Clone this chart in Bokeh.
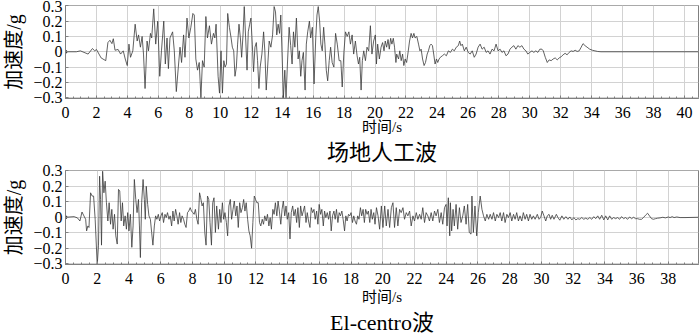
from bokeh.plotting import figure
from bokeh.layouts import column
from bokeh.models import (FixedTicker, CustomJSTickFormatter, Range1d, Title)
from bokeh.embed import file_html
from bokeh.resources import INLINE

# ---------------- data ----------------
title_top = "场地人工波"
title_bottom = "El-centro波"
x_label = "时间/s"
y_label = "加速度/g"

x_ticks_top = [0, 2, 4, 6, 8, 10, 12, 14, 16, 18, 20, 22, 24, 26, 28, 30, 32, 34, 36, 38, 40]
x_ticks_bottom = [0, 2, 4, 6, 8, 10, 12, 14, 16, 18, 20, 22, 24, 26, 28, 30, 32, 34, 36, 38]
y_ticks = [-0.3, -0.2, -0.1, 0, 0.1, 0.2, 0.3]

t_top = [0.0, 0.7, 0.96, 1.46, 1.74, 1.89, 2.0, 2.3, 2.6, 2.74, 2.87, 3.0, 3.09, 3.2, 3.4, 3.56,
         3.73, 3.86, 3.99, 4.1, 4.2, 4.35, 4.5, 4.63, 4.72, 4.84, 4.95, 5.04, 5.14, 5.27, 5.36,
         5.49, 5.57, 5.7, 5.83, 5.96, 6.09, 6.2, 6.35, 6.45, 6.56, 6.65, 6.75, 6.92, 7.03, 7.16,
         7.29, 7.4, 7.5, 7.63, 7.72, 7.85, 7.97, 8.1, 8.23, 8.32, 8.42, 8.53, 8.64, 8.75, 8.85,
         8.96, 9.07, 9.17, 9.3, 9.43, 9.56, 9.65, 9.73, 9.86, 9.95, 10.05, 10.14, 10.23, 10.31,
         10.4, 10.48, 10.59, 10.7, 10.78, 10.87, 10.95, 11.04, 11.12, 11.21, 11.3, 11.38, 11.47,
         11.55, 11.64, 11.73, 11.81, 11.9, 11.98, 12.07, 12.15, 12.24, 12.33, 12.41, 12.5, 12.58,
         12.69, 12.8, 12.88, 12.97, 13.06, 13.16, 13.27, 13.38, 13.48, 13.57, 13.65, 13.74, 13.83,
         13.91, 14.02, 14.08, 14.17, 14.25, 14.34, 14.45, 14.55, 14.64, 14.73, 14.82, 14.92,
         15.03, 15.11, 15.2, 15.28, 15.37, 15.48, 15.56, 15.65, 15.76, 15.84, 15.95, 16.06,
         16.17, 16.25, 16.33, 16.42, 16.5, 16.59, 16.68, 16.76, 16.85, 16.94, 17.04, 17.13,
         17.23, 17.34, 17.45, 17.56, 17.68, 17.79, 17.88, 17.98, 18.09, 18.2, 18.31, 18.41,
         18.52, 18.62, 18.73, 18.84, 18.93, 19.01, 19.1, 19.18, 19.27, 19.38, 19.48, 19.59,
         19.7, 19.8, 19.91, 20.02, 20.09, 20.17, 20.28, 20.39, 20.49, 20.58, 20.66, 20.75,
         20.84, 20.92, 21.01, 21.09, 21.18, 21.26, 21.35, 21.4, 21.52, 21.6, 21.69, 21.78,
         21.86, 21.95, 22.04, 22.12, 22.23, 22.33, 22.42, 22.51, 22.59, 22.7, 22.81, 22.9,
         22.98, 23.07, 23.17, 23.26, 23.37, 23.45, 23.54, 23.62, 23.71, 23.79, 23.88, 23.97,
         24.05, 24.14, 24.22, 24.35, 24.48, 24.61, 24.74, 24.87, 25.0, 25.12, 25.25, 25.38,
         25.47, 25.55, 25.64, 25.77, 25.89, 26.02, 26.15, 26.28, 26.41, 26.53, 26.66, 26.79,
         26.92, 27.05, 27.18, 27.3, 27.43, 27.56, 27.69, 27.82, 27.95, 28.08, 28.2, 28.33,
         28.46, 28.59, 28.72, 28.84, 28.97, 29.1, 29.23, 29.36, 29.49, 29.62, 29.75, 29.87,
         30.0, 30.14, 30.26, 30.39, 30.52, 30.65, 30.78, 30.87, 31.0, 31.13, 31.25, 31.38,
         31.51, 31.64, 31.77, 31.9, 32.03, 32.15, 32.28, 32.41, 32.54, 32.67, 32.8, 32.93,
         33.06, 33.19, 33.32, 33.44, 33.57, 33.7, 33.87, 34.04, 34.21, 34.38, 34.6, 40.9]
a_top = [0, 0, 0.006, -0.015, 0.021, 0.006, 0.015, -0.04, -0.058, 0.06, 0.075, 0.053, 0.085, 0.01,
         0.015, -0.015, 0.006, -0.047, -0.09, 0.05, -0.036, 0.006, 0.18, 0.07, 0.11, 0.03, 0.1,
         -0.015, -0.24, 0.07, 0.006, 0.12, 0.09, 0.28, 0.05, 0.2, -0.16, 0.006, 0.2, -0.08, 0.09,
         -0.11, 0.09, 0.13, 0.006, -0.26, -0.1, 0.03, -0.07, 0.11, -0.036, 0.22, 0.09, 0.16, 0.25,
         0.24, -0.047, -0.12, -0.07, -0.3, -0.058, -0.1, 0.23, 0.09, 0.17, 0.05, 0.12, 0.09, 0.18,
         -0.16, -0.27, 0.006, -0.27, -0.058, -0.1, -0.08, 0.25, 0.16, 0.09, 0.03, 0.006, -0.16,
         -0.1, 0.05, 0.18, 0.09, -0.036, 0.11, 0.295, 0.09, -0.12, 0.13, 0.18, 0.22, 0.05, -0.13,
         0.03, 0.06, -0.058, -0.24, -0.1, -0.015, 0.13, 0.006, -0.25, -0.1, 0.07, 0.03, 0.11,
         0.295, 0.26, 0.11, 0.18, 0.12, 0.24, -0.1, -0.3, -0.12, -0.3, -0.08, 0.16, 0.04, -0.08,
         0.13, 0.03, 0.22, -0.047, 0.006, -0.16, -0.058, -0.004, -0.25, 0.05, 0.13, 0.2, 0.09,
         0.16, -0.21, 0.09, 0.24, 0.295, 0.2, 0.05, 0.006, 0.16, 0.05, -0.12, -0.19, -0.058, 0.03,
         -0.07, -0.1, 0.12, 0.05, -0.058, -0.058, -0.23, -0.015, 0.13, 0.1, 0.13, 0.05, 0.11,
         -0.015, 0.07, -0.026, -0.08, -0.036, -0.25, -0.058, 0.006, -0.058, 0.03, 0.006, 0.17,
         -0.015, 0.07, 0.11, -0.08, 0.05, -0.047, 0.03, 0.06, 0.006, 0.07, 0.03, 0.08, 0.017,
         0.088, 0.05, 0.088, 0.03, -0.07, -0.015, -0.047, 0.006, -0.058, -0.015, -0.09, -0.047,
         -0.07, -0.015, 0.07, 0.12, 0.09, 0.12, 0.09, 0.1, 0.05, 0.006, 0.017, -0.047, -0.09,
         -0.07, -0.015, 0.006, 0.04, 0.05, 0.04, -0.015, -0.08, -0.047, -0.07, -0.047, -0.036,
         -0.026, -0.015, -0.026, 0.006, -0.004, 0.017, 0.006, 0.03, 0.04, 0.07, 0.04, 0.05,
         0.006, 0.03, -0.004, -0.015, 0.006, -0.036, -0.015, 0.03, 0.05, 0.017, 0.03, -0.004,
         0.006, -0.015, 0.017, 0.006, 0.05, 0.006, 0.017, -0.004, 0.006, -0.026, -0.015, 0.017,
         0.03, 0.04, 0.017, 0.04, 0.03, 0.04, 0.017, 0.006, -0.015, -0.004, 0.006, -0.004, 0.006,
         -0.004, 0.017, 0.017, 0.006, -0.036, -0.07, -0.053, -0.058, -0.047, -0.04, -0.053, -0.04,
         -0.032, -0.02, -0.01, -0.02, -0.004, 0.006, 0.002, 0.01, 0.002, 0.006, 0.03, 0.053, 0.04,
         0.03, 0.017, 0.01, 0.006, 0.002, 0, 0]

t_bot = [0.0, 0.54, 0.75, 0.91, 1.04, 1.16, 1.27, 1.33, 1.41, 1.48, 1.58, 1.68, 1.77, 1.87, 2.0,
         2.08, 2.15, 2.21, 2.27, 2.34, 2.42, 2.5, 2.58, 2.67, 2.75, 2.84, 2.92, 3.0, 3.09, 3.17,
         3.26, 3.34, 3.42, 3.51, 3.59, 3.67, 3.76, 3.84, 3.92, 4.0, 4.09, 4.18, 4.26, 4.34, 4.43,
         4.51, 4.6, 4.66, 4.72, 4.8, 4.89, 4.97, 5.03, 5.09, 5.18, 5.26, 5.35, 5.43, 5.51, 5.6,
         5.68, 5.76, 5.85, 5.93, 6.02, 6.1, 6.18, 6.27, 6.35, 6.43, 6.52, 6.6, 6.69, 6.77, 6.85,
         6.94, 7.02, 7.1, 7.19, 7.27, 7.35, 7.44, 7.52, 7.6, 7.69, 7.77, 7.86, 7.94, 8.03, 8.11,
         8.19, 8.28, 8.36, 8.45, 8.52, 8.61, 8.69, 8.78, 8.86, 8.95, 9.03, 9.11, 9.2, 9.28, 9.36,
         9.45, 9.53, 9.64, 9.72, 9.8, 9.89, 9.97, 10.05, 10.14, 10.22, 10.3, 10.39, 10.47, 10.56,
         10.64, 10.73, 10.81, 10.89, 10.98, 11.06, 11.15, 11.23, 11.31, 11.39, 11.48, 11.56,
         11.64, 11.73, 11.81, 11.9, 11.98, 12.06, 12.15, 12.23, 12.31, 12.4, 12.48, 12.56, 12.65,
         12.73, 12.82, 12.9, 12.98, 13.07, 13.15, 13.23, 13.32, 13.4, 13.48, 13.57, 13.65, 13.73,
         13.82, 13.9, 13.98, 14.07, 14.15, 14.23, 14.32, 14.4, 14.49, 14.57, 14.65, 14.74, 14.82,
         14.91, 14.99, 15.07, 15.16, 15.24, 15.32, 15.41, 15.49, 15.58, 15.66, 15.74, 15.83,
         15.91, 15.99, 16.08, 16.16, 16.25, 16.33, 16.41, 16.5, 16.58, 16.67, 16.75, 16.83, 16.92,
         17.0, 17.08, 17.17, 17.25, 17.33, 17.42, 17.5, 17.59, 17.67, 17.75, 17.84, 17.92, 18.0,
         18.09, 18.17, 18.25, 18.34, 18.42, 18.5, 18.59, 18.67, 18.76, 18.84, 18.92, 19.01, 19.09,
         19.18, 19.26, 19.34, 19.43, 19.51, 19.6, 19.7, 19.8, 19.91, 20.01, 20.12, 20.22, 20.33,
         20.43, 20.54, 20.64, 20.74, 20.85, 20.95, 21.06, 21.16, 21.27, 21.37, 21.48, 21.58,
         21.69, 21.79, 21.9, 22.0, 22.11, 22.21, 22.32, 22.42, 22.52, 22.63, 22.73, 22.84, 22.94,
         23.05, 23.15, 23.26, 23.36, 23.47, 23.57, 23.68, 23.78, 23.89, 23.99, 24.05, 24.13,
         24.22, 24.26, 24.34, 24.43, 24.51, 24.62, 24.72, 24.83, 24.93, 25.04, 25.14, 25.25,
         25.35, 25.45, 25.56, 25.62, 25.71, 25.81, 25.92, 26.02, 26.14, 26.25, 26.35, 26.46,
         26.56, 26.67, 26.77, 26.88, 26.98, 27.09, 27.19, 27.3, 27.4, 27.5, 27.61, 27.71, 27.82,
         27.92, 28.03, 28.13, 28.24, 28.34, 28.44, 28.55, 28.65, 28.76, 28.86, 28.97, 29.07,
         29.18, 29.28, 29.39, 29.49, 29.6, 29.74, 29.85, 29.95, 30.05, 30.16, 30.27, 30.37,
         30.48, 30.58, 30.68, 30.79, 30.94, 31.04, 31.16, 31.29, 31.41, 31.54, 31.67, 31.79,
         31.92, 32.04, 32.17, 32.29, 32.42, 32.54, 32.67, 32.79, 32.92, 33.05, 33.17, 33.3, 33.42,
         33.55, 33.67, 33.8, 33.93, 34.05, 34.18, 34.3, 34.43, 34.55, 34.68, 34.8, 34.93, 35.05,
         35.18, 35.3, 35.43, 35.56, 35.68, 35.81, 35.93, 36.06, 36.18, 36.31, 36.43, 36.56, 36.69,
         36.81, 36.94, 37.06, 37.19, 37.32, 37.48, 37.65, 37.82, 37.99, 38.11, 38.24, 38.36,
         38.53, 38.74, 39.05, 39.9]
a_bot = [0, 0.004, -0.004, -0.024, 0.034, 0.009, -0.013, -0.088, -0.056, -0.066, 0.158, 0.137,
         0.137, -0.013, -0.31, -0.18, 0.265, 0.115, -0.18, 0.297, 0.158, 0.233, 0.094, -0.024,
         0.094, -0.045, 0.051, -0.077, 0.019, -0.12, -0.173, 0.18, 0.17, -0.024, 0.094, -0.056,
         0.009, -0.077, 0.03, -0.088, 0.019, -0.194, -0.056, 0.244, 0.115, 0.03, 0.115, -0.056,
         -0.26, 0.094, 0.244, 0.115, -0.013, 0.2, 0.083, 0.009, -0.013, -0.098, -0.18, -0.056,
         0.009, -0.013, 0.019, -0.024, 0.009, 0.03, -0.034, 0.019, -0.002, 0.03, -0.013, 0.009,
         -0.056, 0.04, -0.024, 0.051, 0.009, -0.045, 0.03, -0.034, 0.009, -0.013, -0.045, -0.066,
         0.03, 0.04, 0.062, 0.04, 0.03, 0.019, 0.051, -0.013, -0.045, 0.158, 0.126, 0.073, 0.094,
         -0.098, -0.18, 0.137, 0.115, -0.034, -0.18, 0.094, 0.126, -0.098, 0.073, -0.077, 0.051,
         -0.034, 0.094, -0.013, 0.03, -0.034, -0.12, 0.073, 0.115, -0.013, 0.051, 0.105, 0.009,
         0.073, -0.066, 0.094, 0.03, 0.062, 0.115, 0.04, 0.094, -0.013, -0.088, -0.12, -0.2,
         -0.034, 0.137, 0.115, 0.094, 0.094, -0.034, -0.056, -0.013, -0.045, 0.009, -0.024, 0.019,
         -0.056, -0.002, -0.077, 0.051, 0.019, 0.094, 0.009, 0.105, 0.04, -0.045, 0.051, 0.105,
         0.009, 0.073, -0.013, 0.03, -0.14, 0.03, 0.073, 0.009, 0.051, -0.034, 0.062, -0.066,
         0.073, 0.009, 0.04, 0.073, -0.034, 0.03, -0.024, -0.066, 0.062, 0.03, 0.051, -0.013,
         0.04, -0.045, 0.083, 0.019, 0.051, -0.056, 0.04, -0.002, 0.03, -0.013, 0.04, -0.088,
         0.009, 0.04, -0.013, 0.051, -0.034, 0.03, 0.009, 0.04, -0.013, -0.088, 0.009, -0.024,
         0.019, 0.009, 0.03, -0.034, 0.009, -0.024, -0.045, 0.009, -0.013, 0.062, 0.009, 0.051,
         -0.034, 0.051, 0.019, 0.04, -0.034, 0.051, -0.013, 0.03, -0.045, 0.062, 0.009, -0.077,
         0.073, -0.066, 0.073, -0.056, 0.051, -0.066, 0.062, 0.094, -0.066, 0.062, -0.056, 0.051,
         0.03, 0.062, -0.013, 0.03, 0.009, 0.04, -0.056, 0.009, -0.024, 0.03, -0.013, 0.019,
         -0.013, 0.062, -0.034, 0.03, 0.009, -0.024, 0.03, -0.024, 0.04, 0.009, 0.051, -0.034,
         0.03, -0.045, 0.062, 0.083, -0.056, 0.126, -0.12, 0.094, -0.088, 0.051, -0.056, 0.083,
         -0.077, 0.062, -0.034, 0.009, 0.073, -0.045, 0.083, -0.098, -0.109, 0.137, -0.098, 0.073,
         -0.12, 0.03, 0.137, 0.051, 0.009, -0.024, 0.019, -0.013, 0.019, -0.013, 0.03, -0.024,
         0.019, -0.002, 0.03, -0.024, 0.03, -0.034, 0.019, -0.002, 0.03, -0.024, 0.019, -0.013,
         0.03, -0.024, 0.009, -0.024, 0.03, -0.013, 0.019, -0.024, 0.019, -0.013, 0.009, -0.013,
         0.019, -0.013, -0.002, 0.04, 0.009, -0.024, 0.009, 0.019, -0.013, 0.013, -0.013, 0.019,
         -0.002, -0.019, 0.009, -0.013, 0.004, -0.013, 0.002, -0.017, -0.002, -0.017, -0.009,
         -0.013, -0.002, -0.013, -0.006, -0.013, -0.002, -0.013, 0.004, -0.009, 0.009, -0.013,
         0.013, -0.017, 0.009, -0.017, 0.009, -0.013, -0.002, -0.009, -0.002, -0.013, 0.004,
         -0.009, -0.002, -0.013, 0.002, -0.009, 0, -0.009, -0.009, -0.013, -0.013, -0.002, 0.013,
         0.026, 0.009, -0.009, -0.013, -0.009, -0.006, -0.004, 0, -0.004, 0.002, -0.002, 0.004,
         -0.002, 0.002, -0.002, -0.002, 0]

NUMFONT = "Times"
MIXFONT = "'Liberation Serif', 'Noto Sans CJK SC', serif"
GRID = "#d2d2d2"
FRAME = "#808080"

ytick_fmt = CustomJSTickFormatter(code="""
if (Math.abs(tick) < 1e-9) { return "0"; }
if (tick < 0) { return "\\u2212" + (-tick).toFixed(1); }
return tick.toFixed(1);
""")


def make_panel(t, a, xt, xmax, title, height, top, bottom, label_standoff, title_standoff):
    p = figure(width=700, height=height, output_backend="svg", toolbar_location=None,
               x_range=Range1d(0, xmax), y_range=Range1d(-0.305, 0.302),
               min_border_left=62, min_border_right=2, min_border_top=top,
               min_border_bottom=bottom)
    p.background_fill_color = "white"
    p.border_fill_color = "white"
    p.outline_line_color = FRAME
    p.outline_line_width = 1

    minor = []
    v = 0.0
    while v <= xmax + 1e-9:
        minor.append(round(v, 2))
        v += 0.5
    p.xaxis.ticker = FixedTicker(ticks=xt, minor_ticks=minor)
    p.yaxis.ticker = FixedTicker(ticks=y_ticks, minor_ticks=[])
    p.yaxis.formatter = ytick_fmt

    for ax in p.xaxis + p.yaxis:
        ax.axis_line_color = FRAME
        ax.major_tick_line_color = FRAME
        ax.minor_tick_line_color = FRAME
        ax.major_tick_in = 3
        ax.major_tick_out = 0
        ax.minor_tick_in = 2
        ax.minor_tick_out = 0
        ax.major_label_text_font = NUMFONT
        ax.major_label_text_font_style = "normal"
        ax.major_label_text_font_size = "16px"
        ax.major_label_text_color = "black"
        ax.axis_label_text_font = MIXFONT
        ax.axis_label_text_font_style = "normal"
        ax.axis_label_text_color = "black"

    p.xaxis.major_label_standoff = 8
    p.xaxis.axis_label = x_label
    p.xaxis.axis_label_text_font_size = "15px"
    p.xaxis.axis_label_standoff = label_standoff

    p.yaxis.major_label_standoff = 3
    p.yaxis.axis_label = y_label
    p.yaxis.axis_label_text_font_size = "20px"
    p.yaxis.axis_label_standoff = 5

    p.xgrid.ticker = FixedTicker(ticks=xt)
    p.ygrid.ticker = FixedTicker(ticks=y_ticks)
    p.xgrid.grid_line_color = GRID
    p.ygrid.grid_line_color = GRID

    p.line(t, a, line_color="#3a3a3a", line_width=0.8)
    p.scatter([t[0]], [a[0]], size=3, color="#3a3a3a")

    p.add_layout(Title(text=title, align="center", text_font=MIXFONT, text_font_size="22px",
                       text_font_style="normal", text_color="black",
                       standoff=title_standoff), "below")
    return p


p1 = make_panel(t_top, a_top, x_ticks_top, 40.9, title_top, 164, 5, 65, -2, 0)
p2 = make_panel(t_bot, a_bot, x_ticks_bottom, 39.9, title_bottom, 170, 6, 69, 2, 0)

layout = column(p1, p2, spacing=0)

with open("out.html", "w") as f:
    f.write(file_html(layout, INLINE))
